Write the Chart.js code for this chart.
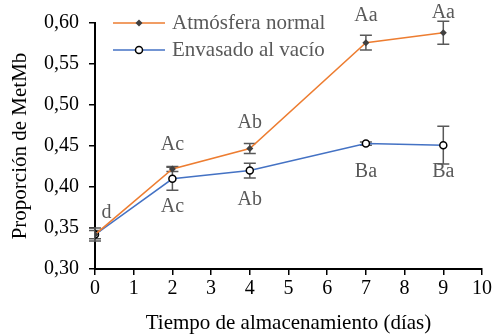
<!DOCTYPE html>
<html><head><meta charset="utf-8">
<script src="https://cdn.jsdelivr.net/npm/chart.js@4"></script>
<style>html,body{margin:0;padding:0;background:#fff}#w{width:494px;height:336px}</style>
</head><body><div id="w"><canvas id="c" width="494" height="336"></canvas></div>
<script>
const days = [0, 2, 4, 7, 9];
const seriesNames = ['Atmósfera normal', 'Envasado al vacío'];
const normalVals = [0.342, 0.422, 0.447, 0.576, 0.588];
const normalErr  = [0.005, 0.003, 0.006, 0.009, 0.014];
const vacioVals  = [0.342, 0.410, 0.420, 0.453, 0.451];
const vacioErr   = [0.008, 0.014, 0.009, 0.002, 0.023];
const labelTexts = ['d', 'Ac', 'Ac', 'Ab', 'Ab', 'Aa', 'Aa', 'Ba', 'Ba'];
const labelX     = [0.3, 2, 2, 4, 4, 7, 9, 7, 9];
const labelY     = [0.369, 0.451, 0.376, 0.478, 0.385, 0.609, 0.613, 0.418, 0.418];
const yTicks = [0.30, 0.35, 0.40, 0.45, 0.50, 0.55, 0.60];

const FONT = "'Liberation Serif', 'Times New Roman', serif";
const ORANGE = '#ED7D31', BLUE = '#4472C4', GRAY = '#595959';

const toPts = (v) => days.map((d, i) => ({x: d, y: v[i]}));

const extras = {
  id: 'extras',
  beforeDatasetsDraw(chart) {
    const ctx = chart.ctx, xs = chart.scales.x, ys = chart.scales.y;
    ctx.save();
    ctx.strokeStyle = GRAY; ctx.lineWidth = 1.5;
    [[normalVals, normalErr], [vacioVals, vacioErr]].forEach(([v, e]) => {
      v.forEach((val, i) => {
        const px = xs.getPixelForValue(days[i]);
        const t = ys.getPixelForValue(val + e[i]), b = ys.getPixelForValue(val - e[i]);
        ctx.beginPath();
        ctx.moveTo(px, t); ctx.lineTo(px, b);
        ctx.moveTo(px - 6, t); ctx.lineTo(px + 6, t);
        ctx.moveTo(px - 6, b); ctx.lineTo(px + 6, b);
        ctx.stroke();
      });
    });
    ctx.restore();
  },
  afterDraw(chart) {
    const ctx = chart.ctx, xs = chart.scales.x, ys = chart.scales.y;
    ctx.save();
    ctx.font = '20px ' + FONT;
    ctx.fillStyle = GRAY;
    ctx.textAlign = 'center'; ctx.textBaseline = 'middle';
    labelTexts.forEach((t, i) => {
      ctx.fillText(t, xs.getPixelForValue(labelX[i]), ys.getPixelForValue(labelY[i]));
    });
    // legend
    ctx.font = '21px ' + FONT;
    const items = [
      {name: seriesNames[0], color: ORANGE, y: 23, marker: 'diamond'},
      {name: seriesNames[1], color: BLUE, y: 50, marker: 'circle'}
    ];
    items.forEach(it => {
      ctx.strokeStyle = it.color; ctx.lineWidth = 1.5;
      ctx.beginPath(); ctx.moveTo(113, it.y); ctx.lineTo(165, it.y); ctx.stroke();
      if (it.marker === 'diamond') {
        ctx.fillStyle = '#404040';
        ctx.beginPath();
        ctx.moveTo(139, it.y - 3.5); ctx.lineTo(142.5, it.y); ctx.lineTo(139, it.y + 3.5); ctx.lineTo(135.5, it.y);
        ctx.closePath(); ctx.fill();
      } else {
        ctx.fillStyle = '#fff'; ctx.strokeStyle = '#000'; ctx.lineWidth = 1.5;
        ctx.beginPath(); ctx.arc(139, it.y, 3.5, 0, Math.PI * 2); ctx.fill(); ctx.stroke();
      }
      ctx.fillStyle = GRAY; ctx.textAlign = 'left'; ctx.textBaseline = 'middle';
      ctx.fillText(it.name, 172, it.y);
    });
    ctx.restore();
  }
};

new Chart(document.getElementById('c'), {
  type: 'line',
  data: {
    datasets: [
      {label: seriesNames[0], data: toPts(normalVals), borderColor: ORANGE, borderWidth: 1.5,
       pointStyle: 'rectRot', pointRadius: 3.5, pointBackgroundColor: '#404040', pointBorderColor: '#404040',
       pointBorderWidth: 0, tension: 0},
      {label: seriesNames[1], data: toPts(vacioVals), borderColor: BLUE, borderWidth: 1.5,
       pointStyle: 'circle', pointRadius: 3.5, pointBackgroundColor: '#fff', pointBorderColor: '#000',
       pointBorderWidth: 1.5, tension: 0}
    ]
  },
  options: {
    responsive: false, animation: false, devicePixelRatio: 1,
    layout: {padding: {left: 0, right: 12, top: 23, bottom: 0}},
    plugins: {legend: {display: false}, tooltip: {enabled: false}},
    scales: {
      x: {
        type: 'linear', min: 0, max: 10,
        ticks: {stepSize: 1, color: '#000', font: {family: FONT, size: 20}, padding: 2},
        grid: {display: true, drawOnChartArea: false, tickLength: 6, color: '#000', lineWidth: 1.5},
        border: {color: '#000', width: 2},
        title: {display: true, text: 'Tiempo de almacenamiento (días)', color: '#000',
                font: {family: FONT, size: 21}, padding: {top: 7, bottom: 0}},
        afterFit(s) { s.height = 67; }
      },
      y: {
        min: 0.30, max: 0.60,
        afterBuildTicks(s) { s.ticks = yTicks.map(v => ({value: v})); },
        ticks: {color: '#000', font: {family: FONT, size: 20}, padding: 10,
                callback: (v) => v.toFixed(2).replace('.', ',')},
        grid: {display: true, drawOnChartArea: false, tickLength: 6, color: '#000', lineWidth: 1.5},
        border: {color: '#000', width: 2},
        title: {display: true, text: 'Proporción de MetMb', color: '#000',
                font: {family: FONT, size: 21}, padding: {top: 8, bottom: 0}},
        afterFit(s) { s.width = 95; }
      }
    }
  },
  plugins: [extras]
});
</script></body></html>
